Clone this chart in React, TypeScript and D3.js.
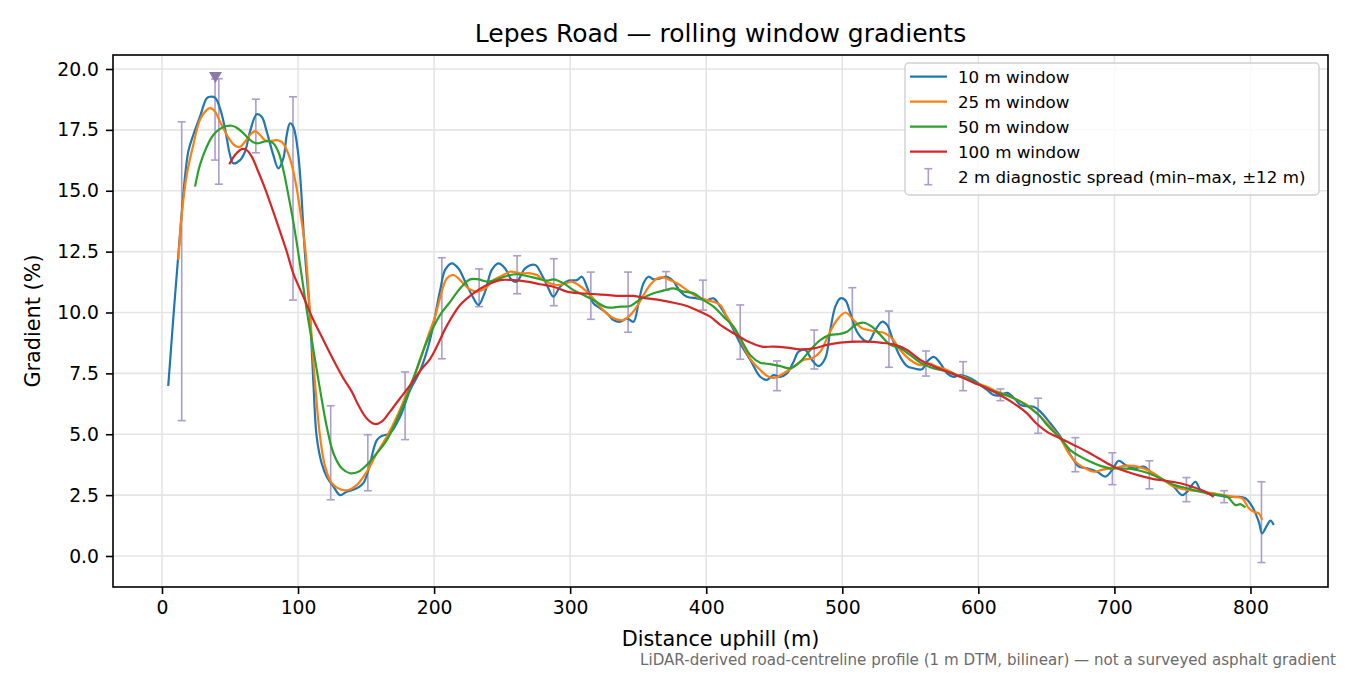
import React, { useRef, useEffect } from 'react';
import * as d3 from 'd3';

// [distance uphill (m), gradient (%)]
const window10: [number, number][] = [
  [4.6, 6.98], [12.0, 12.36], [19.3, 16.6], [23.0, 17.29], [27.9, 18.04], [32.9, 18.8], [35.3, 18.86],
  [39.0, 18.82], [42.6, 18.39], [46.3, 17.56], [50.0, 16.47], [52.4, 16.13], [57.4, 16.26], [61.0, 16.6],
  [64.7, 17.43], [69.6, 18.14], [73.3, 18.04], [77.0, 17.43], [81.8, 16.47], [85.5, 15.92], [89.2, 16.33],
  [91.7, 17.29], [94.1, 17.77], [96.5, 17.63], [100.2, 16.47], [105.1, 12.4], [108.8, 9.83], [111.3, 7.09],
  [113.7, 4.9], [117.4, 3.8], [121.1, 3.26], [126.0, 2.85], [130.9, 2.5], [135.8, 2.64], [143.2, 2.78],
  [148.0, 2.99], [151.7, 3.53], [157.9, 4.76], [161.5, 4.93], [167.6, 5.04], [175.0, 5.72], [182.4, 6.82],
  [189.7, 7.6], [197.1, 8.9], [204.4, 10.9], [208.1, 11.75], [213.0, 12.02], [217.9, 11.81], [222.8, 11.27],
  [227.7, 10.72], [232.6, 10.31], [237.5, 10.86], [242.4, 11.75], [247.3, 12.02], [252.2, 11.81], [257.1, 11.33],
  [260.8, 11.27], [266.9, 11.81], [274.3, 11.95], [279.2, 11.54], [282.9, 11.13], [287.7, 10.65], [292.6, 11.06],
  [298.8, 11.31], [304.9, 11.33], [308.6, 11.47], [312.3, 11.06], [317.1, 10.38], [322.1, 10.17], [327.0, 9.97],
  [331.8, 9.69], [336.8, 9.62], [341.7, 9.76], [346.5, 9.62], [350.2, 10.38], [353.9, 11.2], [357.6, 11.47],
  [361.3, 11.36], [366.2, 11.4], [371.1, 11.47], [376.0, 11.27], [380.9, 10.86], [385.8, 10.65], [393.2, 10.58],
  [400.5, 10.51], [405.4, 10.58], [410.3, 10.24], [417.6, 9.56], [425.0, 8.73], [432.4, 8.05], [439.7, 7.36],
  [444.6, 7.23], [449.5, 7.43], [454.4, 7.36], [459.3, 7.5], [464.2, 7.98], [467.9, 8.39], [472.8, 8.46],
  [477.7, 8.05], [482.6, 7.8], [487.5, 8.12], [491.2, 9.28], [494.9, 10.24], [498.5, 10.58], [502.2, 10.51],
  [505.9, 9.97], [510.8, 9.21], [515.7, 8.87], [519.3, 8.8], [524.3, 9.28], [529.2, 9.62], [532.9, 9.49],
  [537.7, 8.8], [542.6, 8.18], [547.6, 7.8], [552.4, 7.71], [558.6, 7.67], [562.3, 7.98], [567.2, 8.18],
  [572.1, 7.91], [577.0, 7.5], [581.8, 7.36], [586.8, 7.43], [591.7, 7.36], [596.5, 7.23], [601.5, 7.02],
  [606.4, 6.82], [611.3, 6.61], [616.2, 6.6], [621.1, 6.7], [626.0, 6.5], [631.0, 6.2], [636.0, 6.15],
  [640.7, 6.13], [645.6, 5.93], [652.9, 5.45], [660.3, 4.9], [666.4, 4.28], [670.1, 3.94], [673.8, 3.67],
  [680.0, 3.6], [687.3, 3.46], [693.4, 3.26], [698.3, 3.53], [703.2, 3.91], [708.1, 3.74], [714.2, 3.6],
  [721.5, 3.67], [726.5, 3.46], [731.4, 3.26], [738.8, 3.05], [743.6, 2.85], [749.8, 2.5], [753.5, 2.64],
  [759.6, 3.05], [763.2, 2.71], [768.2, 2.57], [775.5, 2.5], [782.9, 2.43], [790.2, 2.43], [796.3, 2.37],
  [801.3, 2.03], [806.1, 1.41], [808.6, 0.93], [812.3, 1.27], [814.7, 1.45], [817.1, 1.27],
];

const window25: [number, number][] = [
  [12.0, 12.16], [14.5, 14.0], [18.2, 15.65], [23.0, 16.88], [27.9, 17.91], [32.9, 18.32], [35.3, 18.39],
  [39.0, 18.25], [42.6, 17.84], [46.3, 17.43], [50.0, 17.08], [53.7, 16.85], [57.4, 16.81], [61.0, 17.01],
  [64.7, 17.29], [68.4, 17.45], [72.1, 17.29], [75.7, 17.08], [79.4, 17.04], [84.3, 17.08], [88.0, 17.01],
  [91.7, 16.67], [95.4, 16.06], [99.0, 15.1], [102.7, 13.73], [105.5, 12.5], [108.8, 10.0], [112.5, 7.09],
  [116.2, 4.9], [119.9, 3.67], [124.8, 2.99], [130.9, 2.74], [137.0, 2.71], [143.2, 2.92], [150.5, 3.46],
  [157.9, 4.22], [165.2, 4.9], [172.6, 5.72], [179.9, 6.68], [187.3, 7.64], [194.6, 8.87], [200.7, 9.83],
  [204.4, 10.6], [209.3, 11.4], [214.2, 11.54], [219.1, 11.33], [225.2, 10.99], [231.4, 10.86], [237.5, 10.99],
  [243.6, 11.33], [251.0, 11.54], [255.9, 11.68], [263.2, 11.61], [270.6, 11.61], [275.5, 11.54], [280.4, 11.33],
  [285.3, 11.2], [290.2, 11.13], [295.1, 11.16], [301.2, 11.27], [306.1, 11.13], [311.0, 10.92], [315.9, 10.65],
  [322.1, 10.24], [328.2, 9.89], [334.3, 9.72], [339.2, 9.69], [344.1, 9.89], [349.0, 10.24], [353.9, 10.72],
  [358.8, 11.13], [363.8, 11.4], [368.6, 11.44], [373.5, 11.33], [378.5, 11.2], [385.8, 10.92], [393.2, 10.65],
  [400.5, 10.51], [405.4, 10.44], [410.3, 10.31], [415.2, 9.83], [422.6, 9.15], [432.4, 8.1], [439.7, 7.64],
  [445.8, 7.36], [450.7, 7.32], [456.8, 7.5], [464.2, 7.77], [471.5, 8.05], [477.7, 8.12], [483.8, 8.39],
  [489.9, 9.08], [496.1, 9.69], [502.2, 10.0], [508.3, 9.69], [514.5, 9.35], [519.3, 9.28], [525.5, 9.21],
  [530.4, 9.17], [536.5, 8.94], [542.6, 8.46], [550.0, 8.05], [557.4, 7.84], [563.5, 7.91], [569.6, 7.77],
  [577.0, 7.64], [584.3, 7.43], [591.7, 7.3], [599.0, 7.09], [606.4, 6.95], [613.7, 6.75], [621.1, 6.61],
  [628.5, 6.41], [635.8, 6.2], [643.2, 5.85], [652.9, 5.31], [660.3, 4.83], [666.4, 4.22], [672.6, 3.81],
  [678.7, 3.6], [684.8, 3.46], [692.1, 3.56], [699.5, 3.6], [706.8, 3.7], [714.2, 3.7], [721.5, 3.6],
  [728.9, 3.4], [736.3, 3.12], [743.6, 2.85], [751.0, 2.74], [758.3, 2.68], [765.7, 2.64], [773.0, 2.57],
  [780.4, 2.5], [787.7, 2.43], [793.9, 2.37], [798.8, 1.96], [802.4, 1.82], [806.1, 1.75], [808.6, 1.48],
];

const window50: [number, number][] = [
  [24.3, 15.17], [27.9, 16.06], [32.9, 16.81], [37.7, 17.29], [42.6, 17.54], [47.6, 17.66], [51.3, 17.67],
  [54.9, 17.59], [58.6, 17.43], [63.5, 17.15], [67.1, 16.99], [70.8, 16.95], [74.5, 17.01], [78.2, 17.04],
  [81.8, 16.95], [85.5, 16.6], [89.2, 15.85], [92.9, 14.82], [96.5, 13.73], [100.2, 12.45], [106.4, 10.1],
  [111.3, 8.46], [116.2, 6.82], [121.1, 5.31], [126.0, 4.22], [132.1, 3.6], [138.2, 3.4], [144.3, 3.46],
  [150.5, 3.74], [157.9, 4.22], [165.2, 4.76], [172.6, 5.59], [179.9, 6.54], [187.3, 7.7], [194.6, 8.8],
  [204.4, 9.9], [211.8, 10.44], [219.1, 10.99], [226.5, 11.36], [232.6, 11.36], [238.8, 11.27], [244.9, 11.33],
  [253.5, 11.5], [260.8, 11.57], [268.2, 11.5], [275.5, 11.4], [282.9, 11.31], [287.7, 11.36], [295.1, 11.2],
  [302.4, 10.92], [309.8, 10.72], [317.1, 10.51], [327.0, 10.21], [336.8, 10.24], [344.1, 10.27], [351.5, 10.54],
  [361.3, 10.79], [368.6, 10.9], [376.0, 10.99], [383.3, 10.86], [390.7, 10.79], [398.0, 10.51], [405.4, 10.24],
  [412.7, 9.83], [420.1, 9.42], [425.0, 8.95], [432.4, 8.25], [439.7, 7.94], [447.1, 7.88], [454.4, 7.8],
  [461.8, 7.71], [469.1, 7.98], [476.5, 8.46], [483.8, 8.87], [491.2, 9.08], [498.5, 9.12], [503.5, 9.21],
  [509.6, 9.49], [515.7, 9.58], [521.8, 9.42], [528.0, 9.08], [535.3, 8.67], [542.6, 8.53], [550.0, 8.25],
  [557.4, 7.94], [564.7, 7.75], [572.1, 7.64], [579.4, 7.53], [586.8, 7.36], [594.1, 7.23], [601.5, 7.02],
  [608.8, 6.82], [616.2, 6.68], [623.5, 6.54], [630.9, 6.34], [638.2, 6.07], [644.3, 5.8], [650.5, 5.38],
  [660.3, 4.83], [667.6, 4.35], [675.0, 4.08], [682.4, 3.87], [689.7, 3.7], [697.1, 3.6], [704.4, 3.6],
  [714.2, 3.56], [724.0, 3.42], [733.8, 3.19], [743.6, 2.92], [753.5, 2.78], [763.2, 2.64], [773.0, 2.53],
  [782.9, 2.43], [789.0, 2.09], [792.6, 2.13], [796.3, 1.99],
];

const window100: [number, number][] = [
  [49.5, 16.09], [53.7, 16.47], [58.6, 16.71], [62.3, 16.67], [66.0, 16.4], [70.8, 15.78], [75.7, 15.1],
  [81.8, 14.14], [86.8, 13.32], [91.7, 12.5], [96.5, 11.61], [103.9, 10.65], [111.3, 9.69], [118.6, 8.87],
  [126.0, 8.05], [133.3, 7.3], [139.5, 6.75], [144.3, 6.2], [150.5, 5.65], [156.6, 5.42], [161.5, 5.52],
  [167.6, 5.93], [175.0, 6.48], [182.4, 7.02], [189.7, 7.6], [197.1, 8.1], [202.0, 8.6], [209.3, 9.45],
  [219.1, 10.31], [228.9, 10.79], [238.8, 11.13], [248.5, 11.33], [258.3, 11.33], [268.2, 11.27], [277.9, 11.16],
  [287.7, 11.06], [297.6, 10.86], [307.4, 10.79], [317.1, 10.76], [327.0, 10.72], [336.8, 10.68], [346.5, 10.68],
  [356.4, 10.58], [366.2, 10.51], [376.0, 10.4], [385.8, 10.27], [395.6, 10.03], [402.9, 9.83], [410.3, 9.49],
  [420.1, 9.15], [431.1, 8.8], [441.0, 8.6], [449.5, 8.6], [459.3, 8.56], [469.1, 8.49], [479.0, 8.53],
  [488.8, 8.67], [498.5, 8.76], [508.3, 8.8], [518.2, 8.8], [528.0, 8.76], [537.7, 8.69], [547.6, 8.46],
  [557.4, 8.05], [566.9, 7.8], [577.0, 7.57], [586.8, 7.36], [596.5, 7.12], [606.4, 6.89], [616.2, 6.6],
  [626.0, 6.27], [635.8, 5.86], [642.5, 5.45], [650.5, 5.1], [660.3, 4.83], [670.1, 4.56], [680.0, 4.28],
  [689.7, 3.97], [699.5, 3.67], [709.3, 3.46], [719.1, 3.29], [728.9, 3.16], [738.8, 3.08], [748.5, 2.99],
  [758.3, 2.82], [768.2, 2.6], [773.0, 2.43],
];

// 2 m diagnostic spread: [distance, min, max]
const spread: [number, number, number][] = [
  [14.5, 5.56, 17.83], [39.0, 16.26, 19.59], [41.8, 15.27, 19.6], [69.0, 16.56, 18.76], [96.3, 10.51, 18.86],
  [124.0, 2.31, 6.17], [151.3, 2.68, 4.98], [178.7, 4.78, 7.56], [205.7, 8.1, 12.25], [233.1, 10.24, 11.79],
  [261.0, 10.77, 12.33], [288.0, 10.28, 12.21], [315.2, 9.72, 11.66], [342.6, 9.19, 11.66], [370.4, 10.92, 11.68],
  [397.6, 10.1, 11.33], [425.0, 8.08, 10.31], [452.0, 6.79, 8.01], [479.4, 7.68, 9.28], [507.4, 8.78, 11.02],
  [534.3, 7.75, 10.06], [561.5, 7.39, 8.42], [588.8, 6.79, 7.98], [616.2, 6.38, 6.86], [643.9, 5.04, 6.48],
  [671.3, 3.46, 4.86], [698.5, 2.93, 4.24], [725.7, 2.76, 3.91], [752.9, 2.23, 3.22], [780.7, 2.19, 2.68],
  [808.1, -0.27, 3.05],
];

const peakMarker: [number, number] = [39.3, 19.67];

const seriesNames = ['10 m window', '25 m window', '50 m window', '100 m window'];
const seriesColors = ['#1f77b4', '#ff7f0e', '#2ca02c', '#d62728'];
const xTicks = [0, 100, 200, 300, 400, 500, 600, 700, 800];
const yTicks = [0, 2.5, 5, 7.5, 10, 12.5, 15, 17.5, 20];

const FONT = '"DejaVu Sans", Verdana, sans-serif';
const SPREAD_COLOR = '#ab9dca';

const App: React.FC = () => {
  const svgRef = useRef<SVGSVGElement | null>(null);

  useEffect(() => {
    const svg = d3.select(svgRef.current);
    svg.selectAll('*').remove();

    const W = 1350;
    const H = 675;
    const margin = { top: 55, right: 22, bottom: 88, left: 113 };
    const left = margin.left;
    const right = W - margin.right;
    const top = margin.top;
    const bottom = H - margin.bottom;

    svg.append('rect').attr('width', W).attr('height', H).attr('fill', 'white');

    const x = d3.scaleLinear().domain([-36, 857]).range([left, right]);
    const y = d3.scaleLinear().domain([-1.273, 20.575]).range([bottom, top]);

    // grid
    const grid = svg.append('g');
    grid.selectAll('.gx')
      .data(xTicks)
      .enter()
      .append('line')
      .attr('x1', d => x(d)).attr('x2', d => x(d))
      .attr('y1', top).attr('y2', bottom)
      .attr('stroke', '#e5e5e5').attr('stroke-width', 1.6);
    grid.selectAll('.gy')
      .data(yTicks)
      .enter()
      .append('line')
      .attr('x1', left).attr('x2', right)
      .attr('y1', d => y(d)).attr('y2', d => y(d))
      .attr('stroke', '#e5e5e5').attr('stroke-width', 1.6);

    // spread error bars
    const bars = svg.append('g').attr('stroke', SPREAD_COLOR).attr('stroke-width', 1.6);
    spread.forEach(([d, lo, hi]) => {
      bars.append('line').attr('x1', x(d)).attr('x2', x(d)).attr('y1', y(lo)).attr('y2', y(hi));
      bars.append('line').attr('x1', x(d) - 4).attr('x2', x(d) + 4).attr('y1', y(lo)).attr('y2', y(lo));
      bars.append('line').attr('x1', x(d) - 4).attr('x2', x(d) + 4).attr('y1', y(hi)).attr('y2', y(hi));
    });

    // gradient lines
    const line = d3.line<[number, number]>()
      .x(d => x(d[0]))
      .y(d => y(d[1]))
      .curve(d3.curveCatmullRom.alpha(0.5));

    [window10, window25, window50, window100].forEach((s, i) => {
      svg.append('path')
        .datum(s)
        .attr('d', line)
        .attr('fill', 'none')
        .attr('stroke', seriesColors[i])
        .attr('stroke-width', 2.2)
        .attr('stroke-linejoin', 'round');
    });

    // peak marker
    const px = x(peakMarker[0]);
    const py = y(peakMarker[1]);
    svg.append('path')
      .attr('d', `M${px - 6.5},${py - 5} L${px + 6.5},${py - 5} L${px},${py + 6} Z`)
      .attr('fill', '#8a7aaa');

    // axes
    const xAxis = svg.append('g')
      .attr('transform', `translate(0,${bottom})`)
      .call(d3.axisBottom(x).tickValues(xTicks).tickSize(7).tickPadding(7).tickFormat(d3.format('d')));
    const yAxis = svg.append('g')
      .attr('transform', `translate(${left},0)`)
      .call(d3.axisLeft(y).tickValues(yTicks).tickSize(7).tickPadding(7).tickFormat(d3.format('.1f')));
    [xAxis, yAxis].forEach(a => {
      a.select('.domain').remove();
      a.selectAll('line').attr('stroke', '#000').attr('stroke-width', 1.6);
      a.selectAll('text').attr('fill', '#000').style('font-family', FONT).style('font-size', '18.75px');
    });

    // frame
    svg.append('rect')
      .attr('x', left).attr('y', top)
      .attr('width', right - left).attr('height', bottom - top)
      .attr('fill', 'none').attr('stroke', '#000').attr('stroke-width', 1.6);

    // legend
    const lg = svg.append('g').attr('transform', 'translate(905,63)');
    lg.append('rect')
      .attr('width', 414).attr('height', 132).attr('rx', 4)
      .attr('fill', 'white').attr('fill-opacity', 0.8)
      .attr('stroke', '#d0d0d0').attr('stroke-width', 1.4);
    seriesNames.forEach((name, i) => {
      const ly = 13.7 + i * 25;
      lg.append('line')
        .attr('x1', 5).attr('x2', 42).attr('y1', ly).attr('y2', ly)
        .attr('stroke', seriesColors[i]).attr('stroke-width', 2.2);
      lg.append('text')
        .attr('x', 53).attr('y', ly).attr('dy', '0.36em')
        .style('font-family', FONT).style('font-size', '16.7px')
        .text(name);
    });
    const ey = 13.7 + 4 * 25;
    const eb = lg.append('g').attr('stroke', SPREAD_COLOR).attr('stroke-width', 1.6);
    eb.append('line').attr('x1', 23.3).attr('x2', 23.3).attr('y1', ey - 8).attr('y2', ey + 8);
    eb.append('line').attr('x1', 19.3).attr('x2', 27.3).attr('y1', ey - 8).attr('y2', ey - 8);
    eb.append('line').attr('x1', 19.3).attr('x2', 27.3).attr('y1', ey + 8).attr('y2', ey + 8);
    lg.append('text')
      .attr('x', 53).attr('y', ey).attr('dy', '0.36em')
      .style('font-family', FONT).style('font-size', '16.7px')
      .text('2 m diagnostic spread (min–max, ±12 m)');

    // titles
    svg.append('text')
      .attr('x', (left + right) / 2).attr('y', 42)
      .attr('text-anchor', 'middle')
      .style('font-family', FONT).style('font-size', '25px')
      .text('Lepes Road — rolling window gradients');
    svg.append('text')
      .attr('x', (left + right) / 2).attr('y', 646)
      .attr('text-anchor', 'middle')
      .style('font-family', FONT).style('font-size', '20.8px')
      .text('Distance uphill (m)');
    svg.append('text')
      .attr('transform', `translate(40,${(top + bottom) / 2}) rotate(-90)`)
      .attr('text-anchor', 'middle')
      .style('font-family', FONT).style('font-size', '20.8px')
      .text('Gradient (%)');
    svg.append('text')
      .attr('x', 1336).attr('y', 665)
      .attr('text-anchor', 'end')
      .attr('fill', '#6b6b6b')
      .style('font-family', FONT).style('font-size', '15.1px')
      .text('LiDAR-derived road-centreline profile (1 m DTM, bilinear) — not a surveyed asphalt gradient');
  }, []);

  return (
    <svg
      ref={svgRef}
      width={1350}
      height={675}
      style={{ position: 'absolute', left: 0, top: 0, display: 'block' }}
    />
  );
};

export default App;
